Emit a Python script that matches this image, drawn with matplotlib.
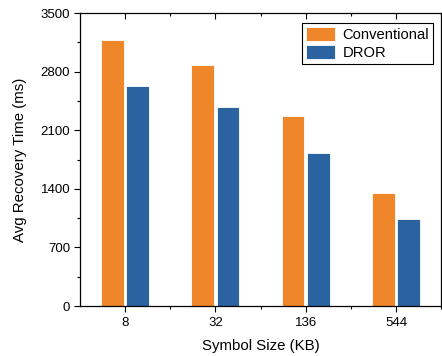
import numpy as np
import matplotlib.pyplot as plt
from matplotlib.ticker import MultipleLocator

plt.rcParams['font.family'] = ['Liberation Sans', 'DejaVu Sans']

sizes = ['8', '32', '136', '544']
conventional = [3180, 2883, 2270, 1350]
dror = [2632, 2374, 1824, 1043]

orange = '#F0862A'
blue = '#2B62A0'

fig = plt.figure(figsize=(4.42, 3.56), dpi=100)
ax = fig.add_axes([0.181, 0.1404, 0.817, 0.823])

x = np.arange(len(sizes))
w = 0.25
ax.bar(x - 0.14, conventional, w, color=orange, edgecolor='white', linewidth=0.6, label='Conventional')
ax.bar(x + 0.14, dror, w, color=blue, edgecolor='white', linewidth=0.6, label='DROR')

ax.set_xlim(-0.5, 3.46)
ax.set_ylim(0, 3500)
ax.set_xticks(x)
ax.set_xticklabels(sizes)
ax.set_xticks(x + 0.5, minor=True)
ax.yaxis.set_major_locator(MultipleLocator(700))
ax.yaxis.set_minor_locator(MultipleLocator(350))

ax.tick_params(axis='both', which='both', labelsize=9.5, width=0.8)
ax.tick_params(axis='both', which='major', length=4)
ax.tick_params(axis='both', which='minor', length=2.5)
ax.tick_params(top=True, right=True, which='both')
ax.xaxis.set_tick_params(which='both', direction='out', pad=4)
ax.yaxis.set_tick_params(which='both', direction='out', pad=3)
# top/right ticks point inward
for t in ax.xaxis.get_major_ticks() + ax.xaxis.get_minor_ticks():
    t.tick2line.set_marker(3)
for t in ax.yaxis.get_major_ticks() + ax.yaxis.get_minor_ticks():
    t.tick2line.set_marker(1)

for s in ax.spines.values():
    s.set_linewidth(0.9)

ax.set_xlabel('Symbol Size (KB)', fontsize=10.8, labelpad=7)
ax.set_ylabel('Avg Recovery Time (ms)', fontsize=10.8, labelpad=10)

leg = ax.legend(loc='upper right', bbox_to_anchor=(0.977, 0.965), fontsize=10.6,
                frameon=True, fancybox=False, edgecolor='black', framealpha=1,
                handlelength=2.0, handleheight=1.1, borderpad=0.25,
                labelspacing=0.2, handletextpad=0.5, borderaxespad=0)
leg.get_frame().set_linewidth(0.8)

fig.savefig('out.png', dpi=100)
